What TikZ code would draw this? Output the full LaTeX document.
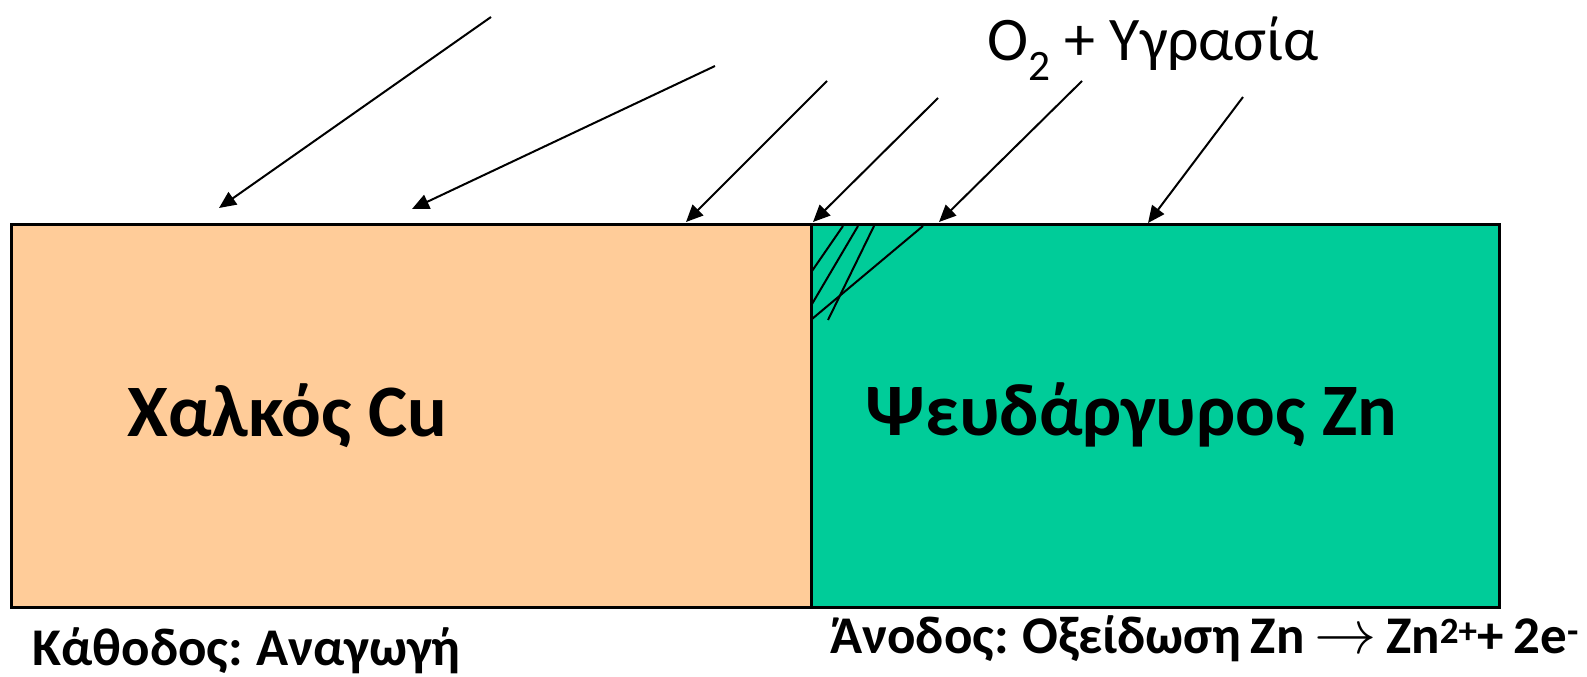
\documentclass[tikz,border=0pt]{standalone}
\usepackage{fontspec}
\usepackage{graphicx}
\setmainfont{Carlito}
\newfontfamily\notefont{Carlito}[WordSpace=0.8]
\usetikzlibrary{arrows.meta}
\definecolor{cufill}{HTML}{FFCC99}
\definecolor{znfill}{HTML}{00CC99}
\tikzset{
  ray/.style={line width=2pt, -{Triangle[length=17pt,width=15pt]}},
  hatch/.style={line width=2pt},
  metal/.style={line width=3pt},
  label/.style={inner sep=0pt, anchor=base west},
  note/.style={label, font=\notefont\fontsize{53}{58}\selectfont\bfseries},
  every picture/.style={line width=0.75pt}
}

\begin{document}
\begin{tikzpicture}[x=1pt,y=-1pt]
    \useasboundingbox (0,0) rectangle (1587,677);
    % μέταλλα
    \draw[metal, fill=cufill] (11,224) rectangle (811,607);
    \draw[metal, fill=znfill] (811,224) rectangle (1499,607);
    % διάβρωση στην επαφή
    \draw[hatch] (843,226) -- (812,271);
    \draw[hatch] (858,226) -- (812,304);
    \draw[hatch] (874,226) -- (828,320);
    \draw[hatch] (923,226) -- (812,319);
    % βέλη
    \coordinate (s1) at (491,17);   \coordinate (t1) at (219,208);
    \coordinate (s2) at (715,66);   \coordinate (t2) at (412,209);
    \coordinate (s3) at (827,81);   \coordinate (t3) at (686,222);
    \coordinate (s4) at (938,98);   \coordinate (t4) at (813,222);
    \coordinate (s5) at (1082,81);  \coordinate (t5) at (939,222);
    \coordinate (s6) at (1243,97);  \coordinate (t6) at (1148,223);
    \foreach \i in {1,...,6}
        \draw[ray] (s\i) -- (t\i);
    % ετικέτες
    \node[label] (air) at (987,61) {\fontsize{62}{66}\selectfont O\textsubscript{2} + Υγρασία};
    \node[label] (cu) at (127,436) {\fontsize{74}{80}\selectfont\bfseries Χαλκός Cu};
    \node[label] (zn) at (865,435) {\fontsize{74}{80}\selectfont\bfseries Ψευδάργυρος Zn};
    \node[note] (cathode) at (32,665) {Κάθοδος: Αναγωγή};
    \node[note] (anode) at (830,653) {Άνοδος: Οξείδωση Zn \scalebox{2.5}{$\rightarrow$} Zn\textsuperscript{2+}+ 2e\textsuperscript{-}};
\end{tikzpicture}
\end{document}
